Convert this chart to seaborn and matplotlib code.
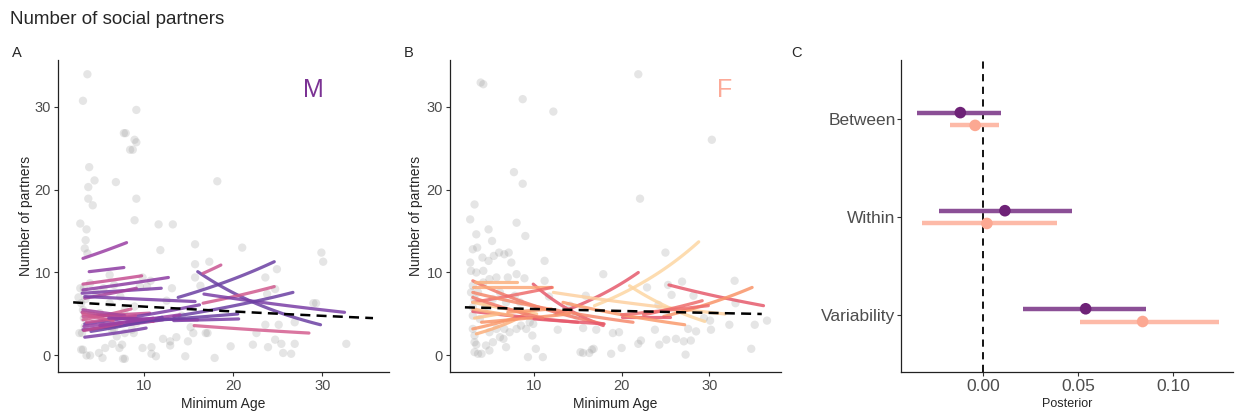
import numpy as np
import pandas as pd
import seaborn as sns
import matplotlib.pyplot as plt

sns.set_style("white")
plt.rcParams['font.family'] = ['Liberation Sans', 'DejaVu Sans']

# ---- raw observations (minimum age, number of partners) ----
male_age = [3.6, 3.1, 9.1, 7.7, 7.9, 8.9, 9.1, 8.4, 8.7, 3.8, 4.4, 3.7, 6.8, 3.7, 9.1, 4.2,
            18.2, 8.9, 2.8, 3.5, 3.4, 11.6, 13.2, 15.7, 11.8, 21.0, 29.9, 30.1, 17.3, 15.7,
            3.3, 3.6, 24.9, 15.7, 23.6, 6.1, 9.8, 10.3, 10.7, 13.1, 16.3, 24.7, 23.8, 29.0,
            29.3, 26.9, 23.6, 25.1, 15.2, 16.9, 17.1, 22.6, 15.5, 12.1, 12.9, 13.6, 14.9,
            12.9, 19.7, 22.2, 23.9, 24.7, 25.4, 25.6, 26.5, 26.9, 32.7, 17.9, 14.6, 10.8,
            10.8, 11.3, 9.8, 2.8, 3.2, 2.9, 3.1, 2.7, 3.0, 3.3, 2.9, 3.1, 3.5, 3.9, 4.9,
            5.3, 5.6, 6.4, 7.2, 7.6, 7.8, 7.5, 6.9, 7.8, 6.6, 5.7, 8.6, 9.1, 5.0, 6.1, 7.3,
            7.8, 8.9, 9.5, 4.6, 3.9, 5.4, 6.6, 8.8, 3.2, 4.0, 2.6, 3.4, 5.2, 6.4, 12.5, 14.2]
male_partners = [33.9, 30.7, 29.6, 26.8, 26.8, 26.0, 25.7, 24.8, 24.8, 22.7, 21.1, 20.3,
                 20.9, 18.9, 18.9, 18.1, 21.0, 16.3, 15.9, 15.2, 13.9, 15.8, 15.8, 13.4,
                 12.7, 13.0, 12.4, 11.3, 11.3, 11.0, 12.9, 12.3, 10.4, 9.4, 9.4, 9.7, 9.4,
                 8.3, 9.0, 8.1, 8.4, 8.0, 7.4, 6.3, 6.3, 4.0, 3.7, 3.7, 3.4, 2.7, 2.7, 2.7,
                 2.7, 2.0, 1.7, 2.2, 1.7, 1.2, 1.1, 1.3, 1.0, 1.9, 1.4, 0.3, 0.2, 1.4, 1.4,
                 -0.3, -0.1, 1.0, 0.2, -0.1, 0.9, 8.1, 8.1, 6.3, 5.5, 2.7, 2.7, 3.5, 0.7,
                 0.7, 0.0, 0.0, 0.3, -0.3, 0.9, 1.4, 0.9, -0.4, -0.4, 1.3, 2.3, 2.7, 3.1,
                 3.6, 3.1, 3.9, 5.1, 6.3, 7.1, 5.5, 5.9, 8.3, 7.5, 8.7, 8.1, 8.5, 2.7, 4.5,
                 5.0, 7.0, 6.8, 4.2, 3.0, 6.6, 4.8]

female_age = [3.9, 4.2, 8.7, 12.2, 21.9, 30.3, 7.7, 8.7, 22.1, 3.2, 2.7, 8.0, 4.8, 3.4, 5.2,
              9.0, 3.0, 3.5, 6.0, 6.6, 7.1, 4.1, 5.4, 2.7, 4.8, 7.4, 11.2, 25.0, 2.8, 3.4,
              4.2, 8.0, 8.9, 17.9, 11.2, 22.9, 26.9, 32.9, 25.3, 25.7, 28.2, 15.9, 11.7,
              24.2, 33.0, 29.4, 30.1, 36.6, 32.3, 35.2, 30.2, 27.6, 28.5, 23.8, 19.0, 19.7,
              17.1, 12.7, 15.6, 25.1, 26.2, 27.1, 27.9, 21.9, 22.2, 24.3, 20.0, 27.3, 34.8,
              15.3, 15.6, 16.3, 16.6, 16.8, 18.8, 10.2, 9.3, 11.0, 3.0, 3.2, 3.2, 3.4, 3.2,
              3.6, 4.0, 4.5, 4.9, 5.3, 6.1, 6.5, 5.7, 6.6, 7.2, 8.0, 8.5, 9.1, 9.5, 9.8,
              6.8, 4.9, 3.8, 3.0, 3.0, 3.2, 4.5, 5.3, 6.1, 6.8, 7.8, 8.4, 3.6, 4.2, 4.9,
              5.7, 7.0, 3.0, 2.8, 9.9, 12.6, 14.1, 14.8]
female_partners = [32.9, 32.7, 30.9, 29.4, 33.9, 26.0, 22.1, 20.7, 18.9, 18.2, 16.4, 16.0,
                   15.2, 14.6, 13.8, 14.4, 12.8, 13.0, 12.4, 12.2, 12.4, 11.8, 12.0, 11.2,
                   11.4, 11.2, 11.4, 12.4, 10.2, 10.0, 10.2, 9.8, 9.3, 9.8, 9.0, 8.2, 8.9,
                   9.0, 8.5, 7.3, 7.2, 7.2, 7.1, 6.1, 6.3, 4.5, 4.2, 4.2, 3.7, 3.7, 3.1,
                   3.2, 2.9, 3.1, 2.7, 2.8, 3.1, 3.1, 3.3, 1.9, 2.0, 1.7, 1.8, 1.4, 1.8, 1.3,
                   0.9, 0.1, 0.8, 0.4, 0.3, 0.3, 0.7, 0.8, 0.2, 0.8, -0.2, -0.2, 3.2, 2.4,
                   1.6, 1.3, 0.4, 0.2, 0.2, 1.2, 0.6, 1.6, 2.2, 2.0, 3.2, 3.2, 2.8, 3.2, 3.6,
                   3.2, 4.0, 2.4, 1.0, 2.8, 4.4, 4.8, 5.8, 6.8, 6.0, 6.8, 7.6, 6.4, 7.2, 6.4,
                   7.6, 8.8, 9.2, 9.4, 9.4, 8.4, 7.6, 3.8, 5.2, 6.0, 4.8]

# ---- individual fitted trajectories: age range and fitted partners at both ends ----
m_x0 = [3.1, 3.8, 3.1, 3.1, 3.0, 3.3, 3.3, 13.8, 16.0, 16.6, 16.6, 16.7, 13.3, 15.6,
        13.3, 3.3, 3.1, 3.1, 3.1, 3.1, 3.3, 3.0, 3.2, 3.5, 4.0, 3.1, 6.0, 8.0, 3.2, 5.0]
m_x1 = [8.0, 7.7, 9.7, 12.7, 11.9, 9.1, 15.7, 24.6, 29.8, 18.6, 24.6, 32.5, 26.7, 28.5,
        20.6, 10.2, 12.1, 10.6, 8.5, 7.8, 16.2, 11.0, 14.0, 9.0, 12.0, 6.5, 16.0, 20.5, 7.5, 11.0]
m_y0 = [11.7, 10.1, 8.6, 7.9, 7.5, 6.9, 7.1, 7.0, 10.1, 9.9, 6.3, 7.4, 4.7, 3.6,
        4.2, 2.2, 3.1, 4.7, 4.3, 5.5, 3.8, 5.2, 3.5, 4.0, 2.9, 5.0, 4.5, 4.0, 3.0, 3.6]
m_y1 = [13.6, 10.6, 9.6, 9.4, 8.1, 8.1, 6.5, 11.3, 3.7, 10.9, 8.3, 5.2, 7.6, 2.7,
        4.4, 3.3, 4.3, 5.1, 5.6, 4.8, 6.1, 4.1, 4.9, 4.8, 4.6, 4.2, 4.3, 5.0, 3.9, 4.5]
m_col = ['#9a3fa4', '#8d3ca3', '#c64f92', '#8d3ca3', '#7d3ea6', '#a5439c', '#7a3ea6',
         '#6b3fa3', '#6b3fa3', '#c95592', '#d05a8e', '#7a3ea6', '#6b3fa3', '#d45e90',
         '#7a3ea6', '#7a3ea6', '#8d3ca3', '#c64f92', '#d05a8e', '#a5439c', '#7a3ea6',
         '#b9478f', '#9a3fa4', '#c64f92', '#6b3fa3', '#d05a8e', '#8d3ca3', '#6b3fa3',
         '#b9478f', '#9a3fa4']

f_x0 = [16.9, 12.5, 25.4, 20.9, 12.2, 24.8, 22.5, 20.0, 13.3, 9.9, 3.0, 3.2, 3.0, 3.0,
        3.0, 3.4, 3.0, 3.0, 20.0, 3.0, 3.2, 4.0, 10.0, 3.0, 3.0, 7.0]
f_x1 = [28.8, 21.9, 36.2, 29.5, 31.8, 34.9, 29.2, 25.5, 27.2, 17.9, 17.9, 8.0, 12.0, 12.0,
        8.7, 9.5, 21.3, 10.3, 29.9, 15.0, 6.0, 14.0, 18.0, 7.5, 11.0, 12.0]
f_y0 = [6.0, 5.0, 8.5, 8.4, 7.6, 4.7, 4.9, 4.6, 6.4, 8.6, 9.0, 8.8, 8.2, 6.4,
        3.2, 2.6, 7.6, 6.4, 4.9, 5.3, 4.5, 4.0, 4.4, 5.6, 7.0, 5.2]
f_y1 = [13.7, 10.0, 6.0, 4.1, 5.0, 8.2, 6.6, 4.6, 3.7, 3.6, 3.8, 8.8, 8.2, 8.2,
        4.8, 5.2, 4.0, 5.0, 6.0, 4.0, 5.0, 5.0, 3.8, 4.8, 4.5, 5.6]
f_col = ['#fdd6a2', '#e65a6c', '#e65a6c', '#fdd6a2', '#fdd0a0', '#f99469', '#ee6c6c',
         '#e65a6c', '#fa9a6c', '#e65a6c', '#f27a6a', '#fbb07d', '#fca878', '#ee6c6c',
         '#fa9a6c', '#fbb07d', '#f5886c', '#fdc68f', '#ee6c6c', '#e65a6c', '#fdc68f',
         '#f99469', '#e65a6c', '#fbb07d', '#f27a6a', '#fa9a6c']

# population-level trend (dashed)
pop_x = {'M': [2.0, 35.7], 'F': [2.1, 36.0]}
pop_y = {'M': [6.4, 4.5], 'F': [5.8, 5.0]}

# ---- posterior summaries ----
effects = ['Between', 'Within', 'Variability']
m_est = [-0.012, 0.0115, 0.054]
m_lo = [-0.0347, -0.023, 0.021]
m_hi = [0.0095, 0.0468, 0.086]
f_est = [-0.0042, 0.002, 0.084]
f_lo = [-0.0174, -0.032, 0.051]
f_hi = [0.0084, 0.039, 0.124]


def loglin_curves(x0, x1, y0, y1):
    # log-link fits: straight in log space between the two end values
    rows = []
    for i in range(len(x0)):
        t = np.linspace(0, 1, 30)
        xs = x0[i] + t * (x1[i] - x0[i])
        ys = y0[i] * (y1[i] / y0[i]) ** t
        rows.append(pd.DataFrame({'age': xs, 'partners': ys, 'id': i}))
    return pd.concat(rows, ignore_index=True)


def style_axis(ax, tick_size=10.5):
    sns.despine(ax=ax)
    for s in ['left', 'bottom']:
        ax.spines[s].set_color('#222222')
        ax.spines[s].set_linewidth(0.9)
    ax.tick_params(axis='both', length=3, width=0.8, color='#333333',
                   labelcolor='#4d4d4d', labelsize=tick_size, pad=2,
                   left=True, bottom=True)


def age_panel(ax, ages, partners, x0, x1, y0, y1, cols, key, letter, label_col, xlim, lab_x, ylab_x):
    sns.scatterplot(x=ages, y=partners, ax=ax, color='#999999', alpha=0.25,
                    s=36, edgecolor='none', zorder=1)
    curves = loglin_curves(x0, x1, y0, y1)
    sns.lineplot(data=curves, x='age', y='partners', hue='id',
                 palette=dict(enumerate(cols)), estimator=None, sort=False,
                 lw=2.3, alpha=0.85, legend=False, ax=ax, zorder=2)
    pop = loglin_curves(pop_x[key][:1], pop_x[key][1:], pop_y[key][:1], pop_y[key][1:])
    sns.lineplot(data=pop, x='age', y='partners', color='black', lw=1.8,
                 ax=ax, zorder=3, estimator=None)
    ax.lines[-1].set_linestyle((0, (4, 2.5)))
    ax.set_xlim(*xlim)
    ax.set_ylim(-2, 35.6)
    ax.set_xticks([10, 20, 30])
    ax.set_yticks([0, 10, 20, 30])
    ax.set_xlabel('Minimum Age', fontsize=10, labelpad=3)
    ax.set_ylabel('Number of partners', fontsize=10)
    ax.yaxis.set_label_coords(ylab_x, 0.5)
    ax.text(lab_x, 0.905, key, transform=ax.transAxes,
            fontsize=18, color=label_col, ha='center', va='center')
    style_axis(ax)
    ax.text(-0.14, 1.022, letter, transform=ax.transAxes, fontsize=10.5, va='center')


fig = plt.figure(figsize=(12.35, 4.12), dpi=100)
axA = fig.add_axes([0.047, 0.097, 0.268, 0.757])
axB = fig.add_axes([0.3644, 0.097, 0.268, 0.757])
axC = fig.add_axes([0.7296, 0.097, 0.2688, 0.757])

age_panel(axA, male_age, male_partners, m_x0, m_x1, m_y0, m_y1, m_col, 'M', 'A',
          '#7b3294', (0.3, 37.5), 0.77, -0.076)
age_panel(axB, female_age, female_partners, f_x0, f_x1, f_y0, f_y1, f_col, 'F', 'B',
          '#fcaa98', (0.4, 38.2), 0.83, -0.082)

# ---- panel C: posterior estimates ----
pos = {'Between': 3, 'Within': 2, 'Variability': 1}
ypos = np.array([pos[e] for e in effects], dtype=float)
off = 0.065
m_line, m_pt = '#8b4f96', '#6e2277'
f_line, f_pt = '#fdbaa8', '#fca892'
axC.hlines(ypos + off, m_lo, m_hi, color=m_line, lw=3.2, zorder=2)
axC.hlines(ypos - off, f_lo, f_hi, color=f_line, lw=3.2, zorder=2)
sns.scatterplot(x=m_est, y=ypos + off, ax=axC, color=m_pt, s=70, edgecolor='none', zorder=3)
sns.scatterplot(x=f_est, y=ypos - off, ax=axC, color=f_pt, s=70, edgecolor='none', zorder=3)
axC.axvline(0, color='black', lw=1.3, ls=(0, (4, 3)), zorder=1)
axC.set_xlim(-0.0432, 0.1316)
axC.set_ylim(0.42, 3.6)
axC.set_yticks(ypos)
axC.set_yticklabels(effects)
axC.set_xticks([0.0, 0.05, 0.10])
axC.set_xticklabels(['0.00', '0.05', '0.10'])
axC.set_xlabel('Posterior', fontsize=9, labelpad=3)
axC.set_ylabel('')
style_axis(axC, tick_size=12.5)
axC.tick_params(axis='y', labelsize=12.5, pad=1)
axC.text(-0.33, 1.022, 'C', transform=axC.transAxes, fontsize=10.5, va='center')

fig.text(0.008, 1 - 20 / 412, 'Number of social partners', fontsize=13.5, va='center')

fig.savefig('out.png', dpi=100)
